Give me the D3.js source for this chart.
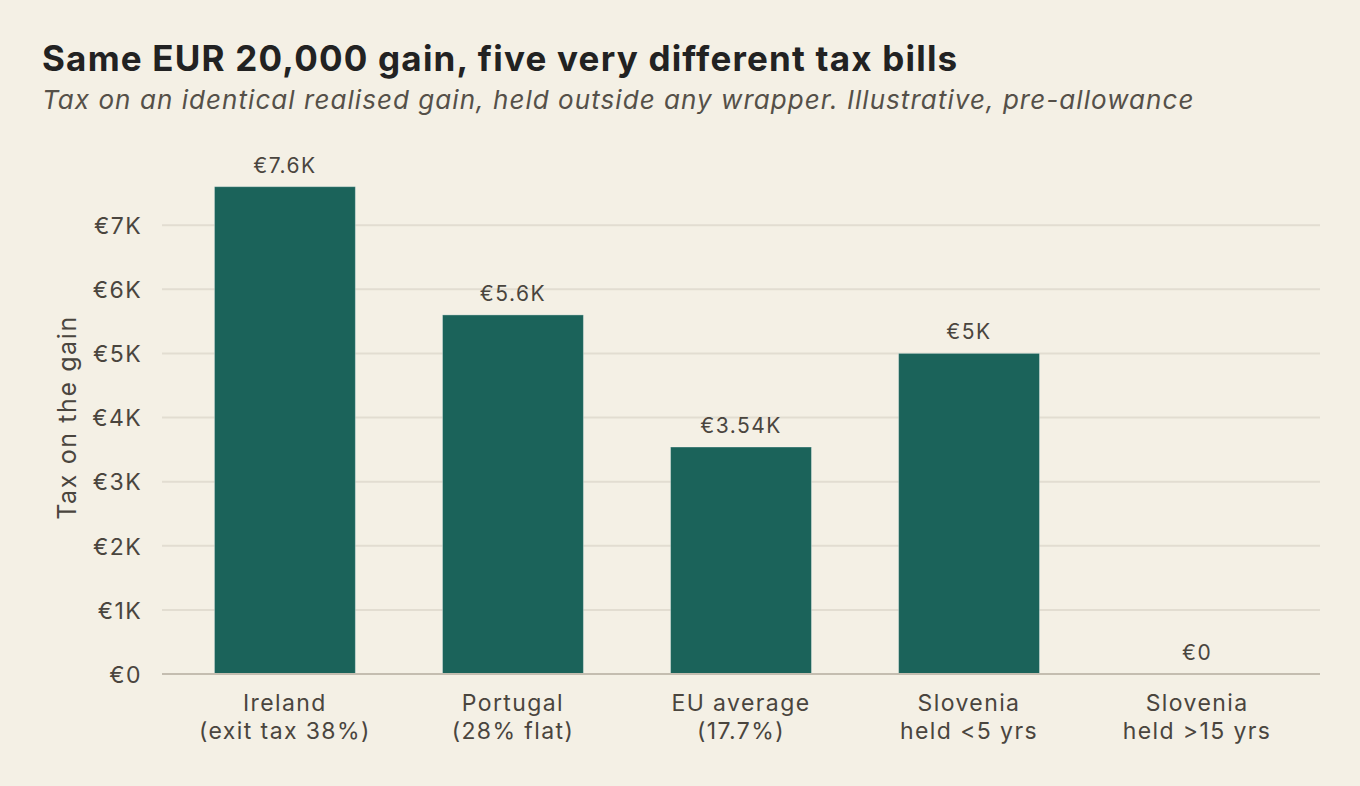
<!DOCTYPE html>
<html lang="en">
<head>
<meta charset="UTF-8">
<script src="https://cdn.jsdelivr.net/npm/d3@7"></script>
<style>
  body { margin: 0; background: #f4f0e5; }
  svg { display: block; font-family: Inter, "Noto Sans", sans-serif; }
</style>
</head>
<body>
<script>
const categories = [
  ["Ireland", "(exit tax 38%)"],
  ["Portugal", "(28% flat)"],
  ["EU average", "(17.7%)"],
  ["Slovenia", "held <5 yrs"],
  ["Slovenia", "held >15 yrs"]
];
const values = [7600, 5600, 3540, 5000, 0];
const valueLabels = ["€7.6K", "€5.6K", "€3.54K", "€5K", "€0"];
const yTicks = [0, 1000, 2000, 3000, 4000, 5000, 6000, 7000];
const yTickLabels = ["€0", "€1K", "€2K", "€3K", "€4K", "€5K", "€6K", "€7K"];

const width = 1360, height = 786;
const margin = { left: 162, right: 40, top: 161, bottom: 112 };
const ink = "#4a453e";

const svg = d3.select("body").append("svg")
  .attr("width", width)
  .attr("height", height);

svg.append("rect").attr("width", width).attr("height", height).attr("fill", "#f4f0e5");

svg.append("text")
  .attr("x", 42).attr("y", 71)
  .attr("font-size", 35).attr("font-weight", 700)
  .attr("letter-spacing", 1.2)
  .attr("fill", "#222222")
  .text("Same EUR 20,000 gain, five very different tax bills");

svg.append("text")
  .attr("x", 42).attr("y", 109)
  .attr("font-size", 26).attr("font-style", "italic")
  .attr("letter-spacing", 1.05)
  .attr("fill", "#555049")
  .text("Tax on an identical realised gain, held outside any wrapper. Illustrative, pre-allowance");

const x = d3.scaleBand()
  .domain(d3.range(values.length))
  .range([margin.left, width - margin.right])
  .paddingInner(0.382)
  .paddingOuter(0.23);

const y = d3.scaleLinear()
  .domain([0, 8000])
  .range([height - margin.bottom, margin.top]);

// gridlines
svg.append("g")
  .selectAll("line")
  .data(yTicks.slice(1))
  .join("line")
  .attr("x1", margin.left).attr("x2", width - margin.right)
  .attr("y1", d => y(d)).attr("y2", d => y(d))
  .attr("stroke", "#e2ddd1").attr("stroke-width", 2);

// y labels
const yAxis = svg.append("g")
  .attr("transform", `translate(${margin.left - 20},0)`)
  .call(d3.axisLeft(y).tickValues(yTicks).tickFormat((d, i) => yTickLabels[i]).tickSize(0).tickPadding(0));
yAxis.select(".domain").remove();
yAxis.selectAll("text")
  .attr("font-size", 23).attr("font-family", "Inter, sans-serif")
  .attr("letter-spacing", 1.4)
  .attr("fill", ink).attr("dy", "0.36em");

const yMid = (y.range()[0] + y.range()[1]) / 2;
svg.append("text")
  .attr("transform", `translate(76,${yMid}) rotate(-90)`)
  .attr("text-anchor", "middle")
  .attr("font-size", 25).attr("letter-spacing", 1.6)
  .attr("fill", ink)
  .text("Tax on the gain");

// bars
svg.append("g")
  .selectAll("rect")
  .data(values)
  .join("rect")
  .attr("x", (d, i) => x(i))
  .attr("y", d => y(d))
  .attr("width", x.bandwidth())
  .attr("height", d => y(0) - y(d))
  .attr("fill", "#1b635a")
  .attr("stroke", "#ffffff").attr("stroke-opacity", 0.35).attr("stroke-width", 1);

// baseline
svg.append("line")
  .attr("x1", margin.left).attr("x2", width - margin.right)
  .attr("y1", y(0)).attr("y2", y(0))
  .attr("stroke", "#c4bdb0").attr("stroke-width", 2);

// value labels
svg.append("g")
  .selectAll("text")
  .data(values)
  .join("text")
  .attr("x", (d, i) => x(i) + x.bandwidth() / 2)
  .attr("y", d => y(d) - 14)
  .attr("text-anchor", "middle")
  .attr("font-size", 21).attr("letter-spacing", 1.5)
  .attr("fill", ink)
  .text((d, i) => valueLabels[i]);

// x labels
const xl = svg.append("g")
  .selectAll("text")
  .data(categories)
  .join("text")
  .attr("x", (d, i) => x(i) + x.bandwidth() / 2)
  .attr("y", y(0) + 37)
  .attr("text-anchor", "middle")
  .attr("font-size", 23).attr("letter-spacing", 1.4)
  .attr("fill", ink);
xl.append("tspan").attr("x", (d, i) => x(i) + x.bandwidth() / 2).text(d => d[0]);
xl.append("tspan").attr("x", (d, i) => x(i) + x.bandwidth() / 2).attr("dy", 28).text(d => d[1]);
</script>
</body>
</html>
